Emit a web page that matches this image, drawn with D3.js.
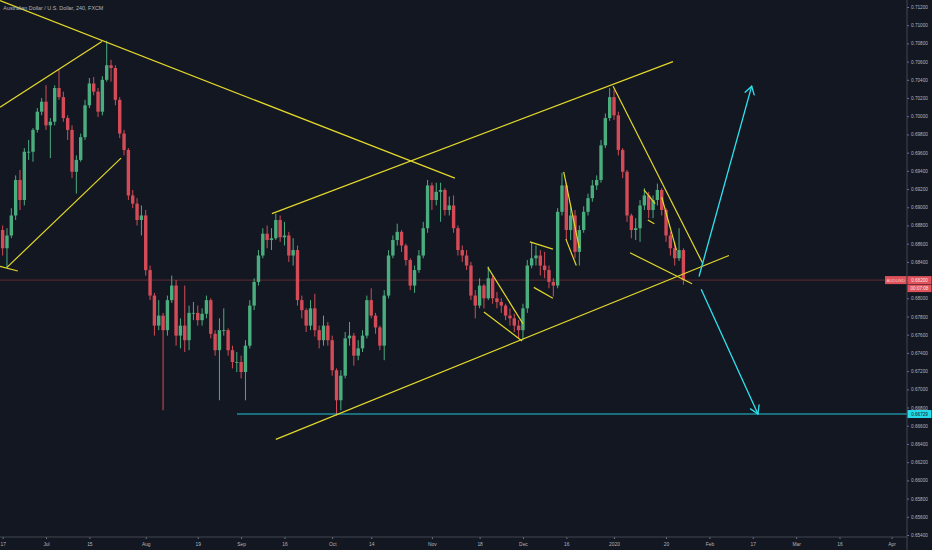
<!DOCTYPE html>
<html><head><meta charset="utf-8">
<script src="https://cdn.jsdelivr.net/npm/d3@7"></script>
<style>html,body{margin:0;padding:0;background:#131722;overflow:hidden}</style>
</head><body>
<svg id="c" width="932" height="550"></svg>
<script>
const title = "Australian Dollar / U.S. Dollar, 240, FXCM";
const firstDay = "2019-06-14";
const holidays = ["2019-12-25", "2020-01-01"];

const opens = [
0.6884,0.6875,0.6855,0.6869,0.6891,0.6930,0.6908,0.6961,0.6961,0.6985,
0.7005,0.7016,0.6990,0.6994,0.7031,0.7021,0.6998,0.6985,0.6939,0.6952,
0.6977,0.7012,0.7036,0.7027,0.7005,0.7040,0.7056,0.7053,0.7018,0.6981,
0.6963,0.6913,0.6904,0.6886,0.6891,0.6831,0.6803,0.6770,0.6781,0.6765,
0.6798,0.6814,0.6759,0.6770,0.6754,0.6784,0.6784,0.6776,0.6783,0.6798,
0.6761,0.6743,0.6765,0.6765,0.6743,0.6730,0.6730,0.6719,0.6748,0.6792,
0.6818,0.6847,0.6871,0.6864,0.6866,0.6886,0.6867,0.6869,0.6847,0.6853,
0.6798,0.6787,0.6770,0.6789,0.6765,0.6754,0.6770,0.6754,0.6721,0.6688,
0.6715,0.6756,0.6759,0.6737,0.6745,0.6759,0.6798,0.6781,0.6768,0.6748,
0.6803,0.6847,0.6864,0.6873,0.6858,0.6842,0.6814,0.6831,0.6847,0.6877,
0.6924,0.6908,0.6917,0.6919,0.6897,0.6902,0.6877,0.6853,0.6847,0.6836,
0.6803,0.6792,0.6814,0.6800,0.6822,0.6800,0.6796,0.6792,0.6781,0.6778,
0.6770,0.6765,0.6789,0.6836,0.6844,0.6847,0.6836,0.6831,0.6818,0.6814,
0.6895,0.6924,0.6875,0.6891,0.6851,0.6875,0.6895,0.6910,0.6924,0.6930,
0.6968,0.6998,0.7021,0.7001,0.6963,0.6939,0.6891,0.6875,0.6877,0.6902,
0.6913,0.6897,0.6908,0.6919,0.6897,0.6869,0.6855,0.6844,0.6853];
const highs = [
0.6891,0.6880,0.6877,0.6899,0.6935,0.6941,0.6965,0.6974,0.6987,0.7009,
0.7020,0.7034,0.6998,0.7034,0.7051,0.7027,0.7001,0.6990,0.6957,0.6981,
0.7018,0.7042,0.7043,0.7031,0.7044,0.7083,0.7062,0.7056,0.7021,0.6985,
0.6965,0.6919,0.6910,0.6902,0.6897,0.6836,0.6806,0.6798,0.6784,0.6803,
0.6825,0.6820,0.6778,0.6814,0.6792,0.6796,0.6792,0.6789,0.6803,0.6800,
0.6765,0.6778,0.6789,0.6767,0.6748,0.6741,0.6737,0.6754,0.6798,0.6822,
0.6853,0.6877,0.6880,0.6877,0.6893,0.6891,0.6884,0.6873,0.6866,0.6858,
0.6803,0.6789,0.6798,0.6805,0.6770,0.6781,0.6774,0.6759,0.6723,0.6721,
0.6763,0.6774,0.6762,0.6754,0.6765,0.6803,0.6811,0.6784,0.6770,0.6809,
0.6853,0.6869,0.6882,0.6875,0.6860,0.6844,0.6836,0.6853,0.6884,0.6930,
0.6927,0.6927,0.6927,0.6921,0.6912,0.6913,0.6880,0.6858,0.6853,0.6840,
0.6809,0.6822,0.6816,0.6835,0.6825,0.6807,0.6800,0.6794,0.6789,0.6783,
0.6776,0.6794,0.6842,0.6862,0.6858,0.6853,0.6851,0.6836,0.6822,0.6899,
0.6938,0.6927,0.6902,0.6897,0.6880,0.6901,0.6915,0.6930,0.6935,0.6974,
0.7003,0.7031,0.7029,0.7005,0.6965,0.6941,0.6893,0.6888,0.6908,0.6921,
0.6917,0.6913,0.6926,0.6921,0.6899,0.6873,0.6862,0.6877,0.6855];
const lows = [
0.6866,0.6847,0.6833,0.6866,0.6886,0.6897,0.6902,0.6952,0.6950,0.6982,
0.7001,0.6985,0.6954,0.6990,0.7018,0.6994,0.6974,0.6932,0.6915,0.6950,
0.6974,0.7009,0.7023,0.6999,0.7001,0.7038,0.7038,0.7012,0.6976,0.6957,
0.6908,0.6899,0.6880,0.6869,0.6825,0.6798,0.6759,0.6765,0.6677,0.6759,
0.6795,0.6748,0.6745,0.6741,0.6743,0.6776,0.6770,0.6770,0.6778,0.6756,
0.6737,0.6688,0.6759,0.6737,0.6723,0.6719,0.6712,0.6688,0.6745,0.6787,
0.6814,0.6844,0.6855,0.6853,0.6864,0.6862,0.6858,0.6840,0.6836,0.6792,
0.6778,0.6763,0.6765,0.6758,0.6745,0.6748,0.6748,0.6715,0.6671,0.6677,
0.6712,0.6748,0.6726,0.6732,0.6741,0.6756,0.6778,0.6761,0.6743,0.6732,
0.6800,0.6844,0.6858,0.6851,0.6836,0.6809,0.6806,0.6828,0.6844,0.6872,
0.6897,0.6902,0.6884,0.6891,0.6891,0.6872,0.6847,0.6840,0.6831,0.6798,
0.6778,0.6789,0.6789,0.6798,0.6794,0.6789,0.6784,0.6776,0.6770,0.6763,
0.6756,0.6754,0.6784,0.6833,0.6836,0.6825,0.6822,0.6811,0.6802,0.6811,
0.6891,0.6864,0.6864,0.6844,0.6836,0.6872,0.6891,0.6906,0.6919,0.6927,
0.6965,0.6995,0.6996,0.6957,0.6932,0.6884,0.6866,0.6864,0.6862,0.6897,
0.6888,0.6888,0.6902,0.6891,0.6862,0.6847,0.6836,0.6841,0.6815];
const closes = [
0.6875,0.6855,0.6869,0.6891,0.6930,0.6908,0.6961,0.6961,0.6985,0.7005,
0.7016,0.6990,0.6994,0.7031,0.7021,0.6998,0.6985,0.6939,0.6952,0.6977,
0.7012,0.7036,0.7027,0.7005,0.7040,0.7056,0.7053,0.7018,0.6981,0.6963,
0.6913,0.6904,0.6886,0.6891,0.6831,0.6803,0.6770,0.6781,0.6765,0.6798,
0.6814,0.6759,0.6770,0.6754,0.6784,0.6784,0.6776,0.6783,0.6798,0.6761,
0.6743,0.6765,0.6765,0.6743,0.6730,0.6730,0.6719,0.6748,0.6792,0.6818,
0.6847,0.6871,0.6864,0.6866,0.6886,0.6867,0.6869,0.6847,0.6853,0.6798,
0.6787,0.6770,0.6789,0.6765,0.6754,0.6770,0.6754,0.6721,0.6688,0.6715,
0.6756,0.6759,0.6737,0.6745,0.6759,0.6798,0.6781,0.6768,0.6748,0.6803,
0.6847,0.6864,0.6873,0.6858,0.6842,0.6814,0.6831,0.6847,0.6877,0.6924,
0.6908,0.6917,0.6919,0.6897,0.6902,0.6877,0.6853,0.6847,0.6836,0.6803,
0.6792,0.6814,0.6800,0.6822,0.6800,0.6796,0.6792,0.6781,0.6778,0.6770,
0.6765,0.6789,0.6836,0.6844,0.6847,0.6836,0.6831,0.6818,0.6814,0.6895,
0.6924,0.6875,0.6891,0.6851,0.6875,0.6895,0.6910,0.6924,0.6930,0.6968,
0.6998,0.7021,0.7001,0.6963,0.6939,0.6891,0.6875,0.6877,0.6902,0.6913,
0.6897,0.6908,0.6919,0.6897,0.6869,0.6855,0.6844,0.6853,0.6820];

const priceTicks = [0.654,0.656,0.658,0.660,0.662,0.664,0.666,0.668,0.670,0.672,
0.674,0.676,0.678,0.680,0.682,0.684,0.686,0.688,0.690,0.692,
0.694,0.696,0.698,0.700,0.702,0.704,0.706,0.708,0.710,0.712];
const dateTicks = ["2019-06-17","2019-07-01","2019-07-15","2019-08-01","2019-08-19","2019-09-02","2019-09-16","2019-10-01","2019-10-14","2019-11-01","2019-11-18","2019-12-02","2019-12-16","2020-01-02","2020-01-20","2020-02-03","2020-02-17","2020-03-02","2020-03-16","2020-04-01"];
const dateLabels = ["17","Jul","15","Aug","19","Sep","16","Oct","14","Nov","18","Dec","16","2020","20","Feb","17","Mar","16","Apr"];

// drawn trend lines: [day index from 2019-07-01, price]
const trendLines = [
 [[-10.6,0.7127],[94.3,0.6932]],
 [[-10.6,0.7010],[12.9,0.7082]],
 [[-9.0,0.6834],[17.3,0.6954]],
 [[-10.6,0.6835],[-6.5,0.6830]],
 [[52.1,0.6893],[144.6,0.7060]],
 [[53.0,0.6645],[157.5,0.6847]],
 [[101.9,0.6834],[110.0,0.6772]],
 [[101.0,0.6785],[109.8,0.6753]],
 [[111.6,0.6862],[116.9,0.6854]],
 [[112.5,0.6812],[116.9,0.6800]],
 [[119.4,0.6939],[123.0,0.6855]],
 [[119.9,0.6865],[122.3,0.6836]],
 [[130.8,0.7033],[151.5,0.6838]],
 [[134.7,0.6850],[149.0,0.6816]],
 [[137.9,0.6919],[140.5,0.6904]],
 [[138.8,0.6886],[140.3,0.6882]],
 [[142.0,0.6911],[145.4,0.6853]]
];
const arrows = [
 [[150.6,0.6824],[162.75,0.7033]],
 [[151.1,0.6810],[164.2,0.6673]]
];
const supportStart = 44.05;
const supportLevel = 0.66729;
const symbol = "AUDUSD";
const countdown = "00:07:08";

// trading calendar (weekends and listed holidays removed)
const cal = [];
{
  const d = new Date(firstDay + "T00:00:00Z");
  while (cal.length < 260) {
    const s = d.toISOString().slice(0, 10), w = d.getUTCDay();
    if (w !== 0 && w !== 6 && !holidays.includes(s)) cal.push(s);
    d.setUTCDate(d.getUTCDate() + 1);
  }
}
const base = cal.indexOf("2019-07-01");
const idx = s => cal.indexOf(s) - base;

const W = 932, H = 550, PR = 907, PB = 537;
const x = d3.scaleLinear().domain([-10.61, 198.57]).range([0, PR]);
const y = d3.scaleLinear().domain([0.654, 0.712]).range([535, 7]);

const svg = d3.select("#c");
svg.append("rect").attr("width", W).attr("height", H).attr("fill", "#131722");
svg.append("defs").append("clipPath").attr("id", "plot")
  .append("rect").attr("x", 0).attr("y", 0).attr("width", PR).attr("height", PB);
const g = svg.append("g").attr("clip-path", "url(#plot)");

const lastClose = closes[closes.length - 1];
// last price line
g.append("line").attr("x1", 0).attr("x2", PR)
  .attr("y1", y(lastClose)).attr("y2", y(lastClose))
  .attr("stroke", "#5e2a32").attr("stroke-width", 1);

// candles
const up = "#4fba86", dn = "#e5505c";
const candles = closes.map((c, k) => ({i: k - base, o: opens[k], h: highs[k], l: lows[k], c}));
const cg = g.append("g").attr("opacity", 0.92);
cg.selectAll("line.w").data(candles).join("line").attr("class", "w")
  .attr("x1", d => x(d.i)).attr("x2", d => x(d.i))
  .attr("y1", d => y(d.h)).attr("y2", d => y(d.l))
  .attr("stroke", d => d.c >= d.o ? up : dn).attr("stroke-width", 1);
cg.selectAll("rect").data(candles).join("rect")
  .attr("x", d => x(d.i) - 1.7).attr("width", 3.4)
  .attr("y", d => y(Math.max(d.o, d.c)))
  .attr("height", d => Math.max(0.8, Math.abs(y(d.o) - y(d.c))))
  .attr("fill", d => d.c >= d.o ? up : dn);

// support line
g.append("line").attr("x1", x(supportStart)).attr("x2", PR)
  .attr("y1", y(supportLevel)).attr("y2", y(supportLevel))
  .attr("stroke", "#22c7d6").attr("stroke-width", 1);

// trend lines
g.selectAll("line.t").data(trendLines).join("line").attr("class", "t")
  .attr("x1", d => x(d[0][0])).attr("y1", d => y(d[0][1]))
  .attr("x2", d => x(d[1][0])).attr("y2", d => y(d[1][1]))
  .attr("stroke", "#e3d82a").attr("stroke-width", 1.2);

// arrows
const cyan = "#2ee3ee";
arrows.forEach(a => {
  const x1 = x(a[0][0]), y1 = y(a[0][1]), x2 = x(a[1][0]), y2 = y(a[1][1]);
  g.append("line").attr("x1", x1).attr("y1", y1).attr("x2", x2).attr("y2", y2)
    .attr("stroke", cyan).attr("stroke-width", 1.3);
  const th = Math.atan2(y2 - y1, x2 - x1), L = 9, s = 0.55;
  [th + s, th - s].forEach(t => {
    g.append("line").attr("x1", x2).attr("y1", y2)
      .attr("x2", x2 - L * Math.cos(t)).attr("y2", y2 - L * Math.sin(t))
      .attr("stroke", cyan).attr("stroke-width", 1.3).attr("stroke-linecap", "round");
  });
});

// axes
const font = "'Liberation Sans', Arial, sans-serif";
const ya = svg.append("g").attr("transform", `translate(${PR},0)`)
  .call(d3.axisRight(y).tickValues(priceTicks).tickFormat(d => d.toFixed(5)).tickSize(2).tickPadding(2));
ya.select(".domain").remove();
ya.selectAll("line").attr("stroke", "#787b86");
ya.selectAll("text").attr("fill", "#b2b5be").style("font-family", font).style("font-size", "4.7px");

const xa = svg.append("g").attr("transform", `translate(0,${PB})`)
  .call(d3.axisBottom(x).tickValues(dateTicks.map(idx)).tickFormat((d, i) => dateLabels[i]).tickSize(2).tickPadding(4));
xa.select(".domain").remove();
xa.selectAll("line").attr("stroke", "#787b86");
xa.selectAll("text").attr("fill", "#b2b5be").style("font-family", font).style("font-size", "4.9px");

svg.append("line").attr("x1", 0).attr("x2", PR).attr("y1", PB).attr("y2", PB).attr("stroke", "#434651").attr("stroke-width", 1);
svg.append("line").attr("x1", PR).attr("x2", PR).attr("y1", 0).attr("y2", H).attr("stroke", "#434651").attr("stroke-width", 1);

// price labels
const yl = y(lastClose);
svg.append("rect").attr("x", 885).attr("y", yl - 4).attr("width", 21.5).attr("height", 8).attr("fill", "#e0525b");
svg.append("text").attr("x", 895.7).attr("y", yl + 1.7).attr("text-anchor", "middle")
  .attr("fill", "#f4c9cc").style("font-family", font).style("font-size", "4.4px").text(symbol);
svg.append("rect").attr("x", PR + 0.5).attr("y", yl - 4).attr("width", 24).attr("height", 8).attr("fill", "#e0525b");
svg.append("text").attr("x", PR + 12.5).attr("y", yl + 1.7).attr("text-anchor", "middle")
  .attr("fill", "#fbe4e5").style("font-family", font).style("font-size", "4.6px").text(lastClose.toFixed(5));
svg.append("rect").attr("x", PR + 0.5).attr("y", yl + 4.5).attr("width", 24).attr("height", 7.5).attr("fill", "#e0525b");
svg.append("text").attr("x", PR + 12.5).attr("y", yl + 9.8).attr("text-anchor", "middle")
  .attr("fill", "#fbe4e5").style("font-family", font).style("font-size", "4.6px").text(countdown);

const ys = y(supportLevel);
svg.append("rect").attr("x", PR + 0.5).attr("y", ys - 4).attr("width", 24).attr("height", 8).attr("fill", "#26d9e6");
svg.append("text").attr("x", PR + 12.5).attr("y", ys + 1.7).attr("text-anchor", "middle")
  .attr("fill", "#131722").style("font-family", font).style("font-size", "4.6px").text(supportLevel.toFixed(5));

// title
svg.append("text").attr("x", 3.3).attr("y", 9.6).attr("fill", "#b2b5be")
  .style("font-family", font).style("font-size", "5.4px").text(title);
</script>
</body></html>
